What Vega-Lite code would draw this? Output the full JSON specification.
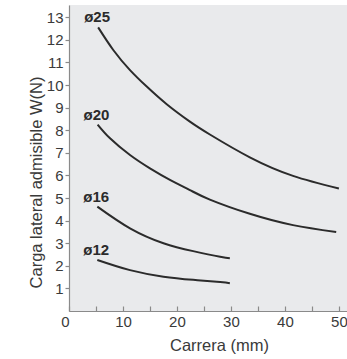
{
  "$schema": "https://vega.github.io/schema/vega-lite/v6.json",
  "width": 278,
  "height": 306,
  "autosize": {"type": "none"},
  "padding": {"left": 69, "top": 5, "right": 0, "bottom": 48},
  "background": "#ffffff",
  "config": {
    "font": "Liberation Sans",
    "view": {"fill": "#e9eaec", "stroke": null},
    "axis": {
      "domainColor": "#8a8a8a",
      "domainWidth": 1.2,
      "tickColor": "#8a8a8a",
      "tickWidth": 1.2,
      "labelColor": "#3a3a3a",
      "labelFontSize": 15,
      "titleColor": "#3a3a3a",
      "titleFontSize": 16.5,
      "titleFontWeight": "normal",
      "grid": false
    }
  },
  "data": {
    "values": [
      {"d": "ø25", "x": 5.4, "y": 12.55},
      {"d": "ø25", "x": 8.2, "y": 11.55},
      {"d": "ø25", "x": 11.3, "y": 10.66},
      {"d": "ø25", "x": 14.4, "y": 9.93},
      {"d": "ø25", "x": 18.1, "y": 9.15},
      {"d": "ø25", "x": 22.4, "y": 8.38},
      {"d": "ø25", "x": 26.1, "y": 7.81},
      {"d": "ø25", "x": 33.5, "y": 6.8},
      {"d": "ø25", "x": 41.5, "y": 5.98},
      {"d": "ø25", "x": 50.0, "y": 5.42},
      {"d": "ø20", "x": 5.3, "y": 8.25},
      {"d": "ø20", "x": 7.6, "y": 7.64},
      {"d": "ø20", "x": 11.3, "y": 6.9},
      {"d": "ø20", "x": 15.0, "y": 6.31},
      {"d": "ø20", "x": 18.7, "y": 5.8},
      {"d": "ø20", "x": 22.4, "y": 5.35},
      {"d": "ø20", "x": 26.1, "y": 4.93},
      {"d": "ø20", "x": 33.5, "y": 4.3},
      {"d": "ø20", "x": 41.5, "y": 3.8},
      {"d": "ø20", "x": 49.5, "y": 3.5},
      {"d": "ø16", "x": 5.25, "y": 4.62},
      {"d": "ø16", "x": 11.3, "y": 3.66},
      {"d": "ø16", "x": 17.5, "y": 3.0},
      {"d": "ø16", "x": 23.0, "y": 2.65},
      {"d": "ø16", "x": 28.0, "y": 2.4},
      {"d": "ø16", "x": 29.8, "y": 2.33},
      {"d": "ø12", "x": 5.25, "y": 2.26},
      {"d": "ø12", "x": 11.3, "y": 1.81},
      {"d": "ø12", "x": 17.5, "y": 1.52},
      {"d": "ø12", "x": 23.0, "y": 1.38},
      {"d": "ø12", "x": 28.0, "y": 1.28},
      {"d": "ø12", "x": 29.8, "y": 1.23}
    ]
  },
  "encoding": {
    "x": {
      "field": "x",
      "type": "quantitative",
      "scale": {"domain": [0, 51.5], "nice": false, "zero": false},
      "axis": {
        "values": [0, 5, 10, 15, 20, 25, 30, 35, 40, 45, 50],
        "labelExpr": "datum.value % 10 == 0 ? datum.label : ''",
        "labelAlign": {"expr": "datum.value == 0 ? 'right' : 'center'"},
        "tickSize": -5,
        "labelPadding": 8,
        "labelFlush": false,
        "labelOverlap": false,
        "title": "Carrera (mm)",
        "titleX": 150,
        "titleY": 34,
        "titleAlign": "center",
        "titleBaseline": "middle"
      }
    },
    "y": {
      "field": "y",
      "type": "quantitative",
      "scale": {"domain": [0, 13.54], "nice": false},
      "axis": {
        "values": [1, 2, 3, 4, 5, 6, 7, 8, 9, 10, 11, 12, 13],
        "tickSize": 4,
        "labelPadding": 2,
        "labelOverlap": false,
        "title": "Carga lateral admisible W(N)",
        "titleX": -33,
        "titleY": 177,
        "titleAngle": -90,
        "titleAlign": "center",
        "titleBaseline": "middle"
      }
    }
  },
  "layer": [
    {
      "mark": {"type": "line", "interpolate": "natural", "color": "#2b2b2b", "strokeWidth": 2},
      "encoding": {"detail": {"field": "d"}}
    },
    {
      "transform": [
        {"joinaggregate": [{"op": "min", "field": "x", "as": "minx"}], "groupby": ["d"]},
        {"filter": "datum.x == datum.minx"}
      ],
      "mark": {"type": "text", "align": "left", "baseline": "middle", "dx": -14, "dy": -10, "fontSize": 15, "fontWeight": "bold", "color": "#2b2b2b"},
      "encoding": {"text": {"field": "d"}}
    }
  ]
}
